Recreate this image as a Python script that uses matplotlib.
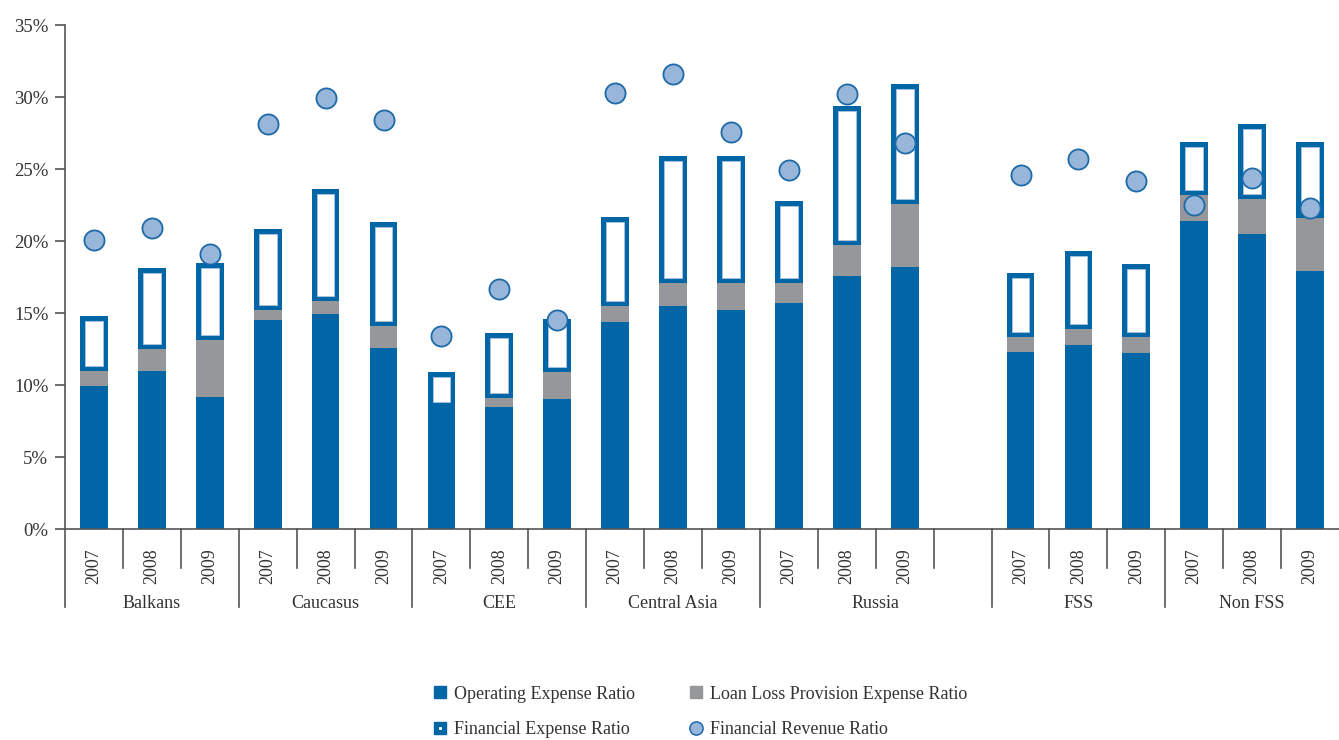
import matplotlib
matplotlib.use("Agg")
import matplotlib.pyplot as plt
from matplotlib.lines import Line2D
from matplotlib.legend_handler import HandlerTuple
import numpy as np

plt.rcParams['font.family'] = ['Liberation Serif', 'DejaVu Serif']

groups = ["Balkans", "Caucasus", "CEE", "Central Asia", "Russia", "FSS", "Non FSS"]
years = ["2007", "2008", "2009"]

# values in percent, one per bar (group x year)
operating = [9.9, 11.0, 9.2,   14.5, 14.9, 12.6,   8.5, 8.5, 9.0,
             14.4, 15.5, 15.2,   15.7, 17.6, 18.2,   12.3, 12.8, 12.2,
             21.4, 20.5, 17.9]
loan_loss = [1.1, 1.5, 3.9,   0.7, 0.9, 1.5,   0.0, 0.6, 1.9,
             1.1, 1.6, 1.9,   1.4, 2.1, 4.4,   1.0, 1.1, 1.1,
             1.8, 2.4, 3.7]
fin_expense = [3.8, 5.6, 5.4,   5.6, 7.8, 7.2,   2.4, 4.5, 3.7,
               6.2, 8.8, 8.8,   5.7, 9.7, 8.3,   4.5, 5.4, 5.1,
               3.7, 5.2, 5.3]
fin_revenue = [20.1, 20.9, 19.1,   28.1, 29.9, 28.4,   13.4, 16.7, 14.5,
               30.3, 31.6, 27.6,   24.9, 30.2, 26.8,   24.6, 25.7, 24.2,
               22.5, 24.4, 22.3]
# number of category slots per group (Russia has an empty trailing slot)
group_slots = [3, 3, 3, 3, 4, 3, 3]

BLUE = "#0066a6"
GRAY = "#96979b"
LIGHT = "#97b6da"
EDGE = "#1d6aa8"
TEXT = "#333333"
AXIS = "#555555"

# slot positions
slot_labels = []
for g, n in zip(groups, group_slots):
    for k in range(n):
        slot_labels.append(years[k] if k < 3 else "")
nslots = len(slot_labels)
x = []
s = 0
for g, n in zip(groups, group_slots):
    x.extend(range(s, s + 3))
    s += n
x = np.array(x, dtype=float)

fig = plt.figure(figsize=(13.39, 7.40), dpi=100)
ax = fig.add_axes([65/1339, 1 - 529/740, 1 - 65/1339, 504/740])

w = 0.48
op = np.array(operating)
ll = np.array(loan_loss)
fe = np.array(fin_expense)
base = op + ll

ax.bar(x, op, width=w, color=BLUE, zorder=2)
ax.bar(x, ll, bottom=op, width=w, color=GRAY, zorder=2)
# financial expense: hollow box with thick blue border
dx = 5 / 57.9
dy = 5 / 14.4
ax.bar(x, fe, bottom=base, width=w, color=BLUE, zorder=2)
ax.bar(x, fe - 2 * dy, bottom=base + dy, width=w - 2 * dx, color="white",
       edgecolor="#a9c6e2", linewidth=0.6, zorder=2)

ax.plot(x, fin_revenue, ls="", marker="o", ms=14.5, mfc=LIGHT, mec=EDGE,
        mew=1.3, zorder=3)

ax.set_xlim(-0.5, nslots - 0.5)
ax.set_ylim(0, 35)
ax.set_yticks(np.arange(0, 36, 5))
ax.set_yticklabels([f"{v}%" for v in range(0, 36, 5)], fontsize=13.5, color=TEXT)
ax.tick_params(axis="y", length=7, width=1.2, color=AXIS, pad=5)
ax.set_xticks([])
for sp in ["top", "right"]:
    ax.spines[sp].set_visible(False)
ax.spines["left"].set_color(AXIS)
ax.spines["left"].set_linewidth(1.2)
ax.spines["bottom"].set_color(AXIS)
ax.spines["bottom"].set_linewidth(1.2)

trans = ax.get_xaxis_transform()
short = -39 / 504
long_ = -78 / 504
# separators
bounds = set()
s = 0
for n in group_slots:
    bounds.add(s)
    s += n
for i in range(nslots):
    yb = long_ if i in bounds else short
    ax.plot([i - 0.5, i - 0.5], [0, yb], transform=trans, color=AXIS, lw=1.2,
            clip_on=False)
# year labels
for i, lab in enumerate(slot_labels):
    if lab:
        ax.text(i, -37 / 504, lab, transform=trans, rotation=90, ha="center",
                va="center", fontsize=13, color=TEXT)
# group labels
s = 0
for g, n in zip(groups, group_slots):
    ax.text(s + n / 2 - 0.5, -74 / 504, g, transform=trans, ha="center",
            va="center", fontsize=13, color=TEXT)
    s += n

h_op = Line2D([], [], ls="", marker="s", ms=8.5, mfc=BLUE, mec=BLUE)
h_ll = Line2D([], [], ls="", marker="s", ms=8.5, mfc=GRAY, mec=GRAY)
h_fe = (Line2D([], [], ls="", marker="s", ms=8.5, mfc=BLUE, mec=BLUE),
        Line2D([], [], ls="", marker="s", ms=1.2, mfc="white", mec="white"))
h_fr = Line2D([], [], ls="", marker="o", ms=9.5, mfc=LIGHT, mec=EDGE, mew=1.1)
leg = fig.legend([h_op, h_fe, h_ll, h_fr],
                 ["Operating Expense Ratio", "Financial Expense Ratio",
                  "Loan Loss Provision Expense Ratio", "Financial Revenue Ratio"],
                 handler_map={tuple: HandlerTuple(ndivide=1)},
                 ncol=2, frameon=False, fontsize=13, loc="center left",
                 bbox_to_anchor=(417 / 1339, 1 - 712 / 740),
                 handlelength=0.8, handletextpad=0.35, columnspacing=3.0,
                 labelspacing=1.05, labelcolor=TEXT)

fig.savefig("out.png", dpi=100)
